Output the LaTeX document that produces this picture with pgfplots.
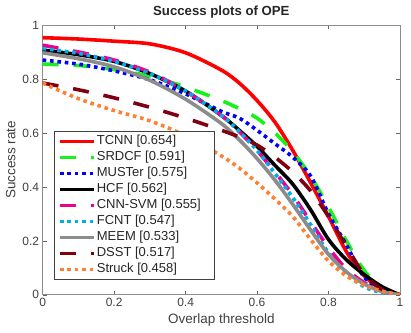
\documentclass[border=0pt]{standalone}
\usepackage{fontspec}
\setmainfont{Liberation Sans}
\usepackage{pgfplots}
\pgfplotsset{compat=1.18}
\definecolor{cgreen}{rgb}{0.1,0.95,0.1}
\definecolor{cdark}{rgb}{0.5,0.0,0.07}
\definecolor{corange}{rgb}{1.0,0.5,0.2}
\definecolor{cgray}{rgb}{0.55,0.55,0.55}
\begin{document}
\begin{tikzpicture}
\begin{axis}[
  scale only axis, width=357.5pt, height=270pt,
  xmin=0, xmax=1, ymin=0, ymax=1,
  xtick={0,0.2,0.4,0.6,0.8,1}, ytick={0,0.2,0.4,0.6,0.8,1},
  xticklabels={0,0.2,0.4,0.6,0.8,1}, yticklabels={0,0.2,0.4,0.6,0.8,1},
  tick align=inside, major tick length=4pt,
  axis line style={draw=black!45, line width=0.8pt},
  tick style={draw=black!60, line width=0.6pt},
  ticklabel style={font=\fontsize{12}{14}\selectfont, text=black!75},
  title={Success plots of OPE},
  title style={font=\bfseries\fontsize{13.2}{15}\selectfont, text=black!85, yshift=-3pt},
  xlabel={Overlap threshold}, ylabel={Success rate},
  label style={font=\fontsize{13.5}{15}\selectfont, text=black!75},
  legend style={at={(0.0316,0.607)}, anchor=north west, draw=black!75, line width=0.6pt,
    inner xsep=4pt, inner ysep=3pt,
    nodes={inner sep=1pt, text height=9.5pt, text depth=3pt, font=\fontsize{13}{14}\selectfont, text=black!85}, row sep=1.5pt},
  legend cell align=left,
  legend image code/.code={\draw[#1,line cap=butt] (0pt,0pt) -- (34pt,0pt);},
  every axis plot/.append style={line width=3.6pt, line cap=butt, smooth, tension=0.5},
]
\addplot[red] coordinates {(0,.953)(.1,.948)(.2,.940)(.3,.930)(.4,.897)(.5,.833)(.55,.785)(.6,.72)(.65,.64)(.7,.535)(.75,.415)(.8,.29)(.85,.16)(.9,.07)(.95,.022)(1,0)};
\addlegendentry{TCNN [0.654]}
\addplot[cgreen, dash pattern=on 16pt off 15pt] coordinates {(0,.855)(.1,.85)(.2,.835)(.3,.81)(.4,.77)(.5,.72)(.55,.69)(.6,.655)(.65,.60)(.7,.53)(.75,.44)(.8,.325)(.85,.20)(.9,.09)(.95,.025)(1,0)};
\addlegendentry{SRDCF [0.591]}
\addplot[blue, dash pattern=on 3.6pt off 3.8pt] coordinates {(0,.87)(.1,.855)(.2,.83)(.3,.797)(.4,.745)(.5,.68)(.55,.655)(.6,.61)(.65,.56)(.7,.51)(.75,.44)(.8,.30)(.85,.185)(.9,.065)(.95,.02)(1,0)};
\addlegendentry{MUSTer [0.575]}
\addplot[black] coordinates {(0,.907)(.1,.89)(.2,.865)(.3,.82)(.4,.755)(.5,.665)(.55,.61)(.6,.55)(.65,.48)(.7,.41)(.75,.315)(.8,.205)(.85,.13)(.9,.075)(.95,.03)(1,0)};
\addlegendentry{HCF [0.562]}
\addplot[magenta, dash pattern=on 16pt off 15pt] coordinates {(0,.925)(.1,.90)(.2,.87)(.3,.825)(.4,.755)(.5,.665)(.55,.605)(.6,.535)(.65,.455)(.7,.37)(.75,.27)(.8,.175)(.85,.095)(.9,.045)(.95,.012)(1,0)};
\addlegendentry{\makebox[113pt][l]{CNN-SVM [0.555]}}
\addplot[cyan, dash pattern=on 3.6pt off 3.8pt] coordinates {(0,.913)(.1,.895)(.2,.865)(.3,.82)(.4,.755)(.5,.665)(.55,.605)(.6,.535)(.65,.45)(.7,.36)(.75,.26)(.8,.155)(.85,.08)(.9,.03)(.95,.008)(1,0)};
\addlegendentry{FCNT [0.547]}
\addplot[cgray] coordinates {(0,.897)(.1,.875)(.2,.845)(.3,.795)(.4,.725)(.5,.635)(.55,.575)(.6,.505)(.65,.425)(.7,.335)(.75,.24)(.8,.15)(.85,.085)(.9,.04)(.95,.012)(1,0)};
\addlegendentry{MEEM [0.533]}
\addplot[cdark, dash pattern=on 16pt off 15pt] coordinates {(0,.785)(.1,.76)(.2,.73)(.3,.695)(.4,.655)(.5,.61)(.55,.585)(.6,.555)(.65,.51)(.7,.455)(.75,.385)(.8,.29)(.85,.18)(.9,.075)(.95,.02)(1,0)};
\addlegendentry{DSST [0.517]}
\addplot[corange, dash pattern=on 3.6pt off 3.8pt] coordinates {(0,.785)(.1,.727)(.2,.683)(.3,.645)(.4,.59)(.5,.515)(.55,.47)(.6,.415)(.65,.355)(.7,.29)(.75,.205)(.8,.125)(.85,.07)(.9,.035)(.95,.014)(1,0)};
\addlegendentry{Struck [0.458]}
\end{axis}
\pgfresetboundingbox
\path (current axis.south west) ++(-42.7pt,-38pt) coordinate (bl);
\path (current axis.north east) ++(11pt,25pt) coordinate (tr);
\useasboundingbox (bl) rectangle (tr);
\end{tikzpicture}
\end{document}
